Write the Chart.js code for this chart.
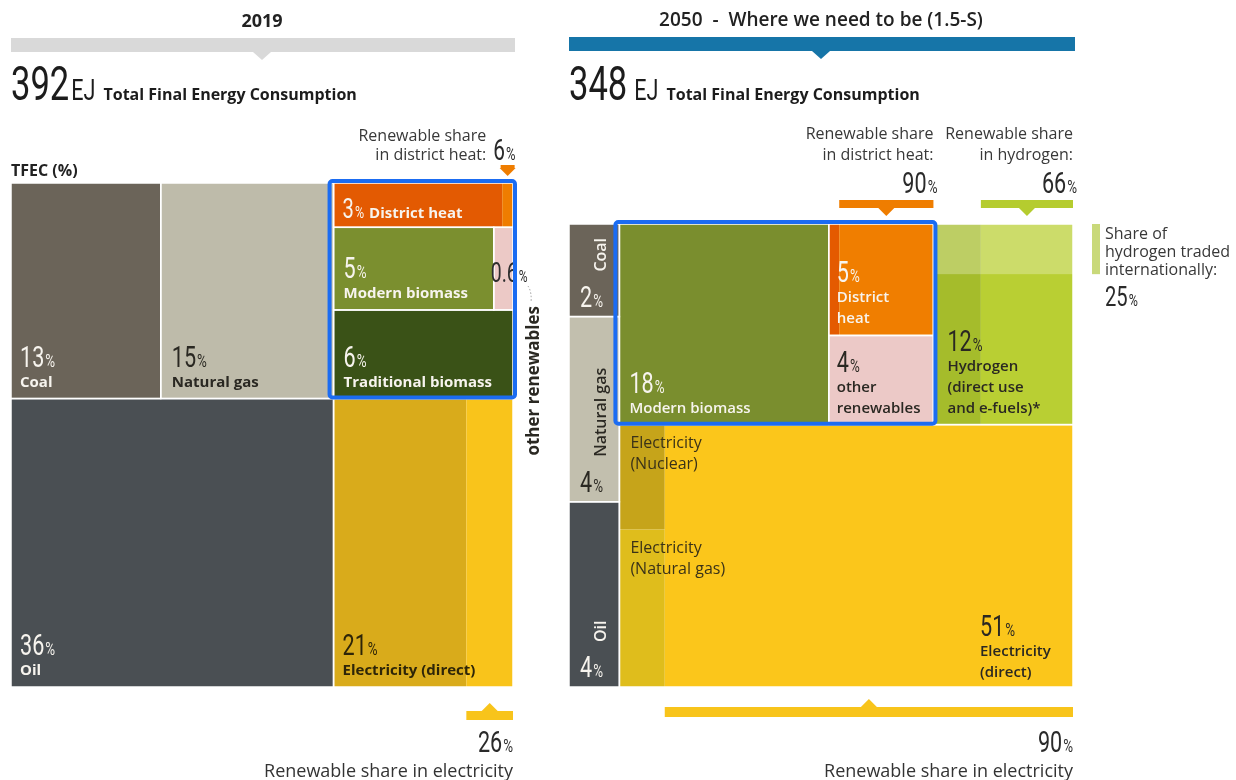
<!DOCTYPE html>
<html>
<head>
<meta charset="utf-8">
<title>Total Final Energy Consumption 2019 vs 2050</title>
<script src="https://cdn.jsdelivr.net/npm/chart.js@4.4.1/dist/chart.umd.min.js"></script>
<style>
  html, body { margin: 0; background: #fff; }
  #wrap { position: relative; width: 1236px; height: 780px; overflow: hidden; }
  canvas { position: absolute; top: 0; }
  #c2019 { left: 0; }
  #c2050 { left: 560px; }
</style>
</head>
<body>
<div id="wrap">
  <canvas id="c2019" width="560" height="780"></canvas>
  <canvas id="c2050" width="676" height="780"></canvas>
</div>
<script>
// shares of total final energy consumption, %
const carriers2019 = ['Coal', 'Natural gas', 'Oil', 'District heat', 'Modern biomass', 'other renewables', 'Traditional biomass', 'Electricity (direct)'];
const shares2019 = [13, 15, 36, 3, 5, 0.6, 6, 21];
const carriers2050 = ['Coal', 'Natural gas', 'Oil', 'Modern biomass', 'District heat', 'other renewables', 'Hydrogen', 'Electricity (direct)'];
const shares2050 = [2, 4, 4, 18, 5, 4, 12, 51];

const panelTitles = ['2019', '2050  -  Where we need to be (1.5-S)'];
const totalEJ = [392, 348];

// renewable shares inside a carrier, % (2019, 2050)
const renewDistrictHeat = [6, 90];
const renewElectricity = [26, 90];
const renewHydrogen2050 = 66;
const hydrogenTraded2050 = 25;
// nuclear vs gas inside the non-renewable power strip in 2050 (rough read)
const nonRenewPowerSplit2050 = [40, 60];

const SQ = 0.72; // horizontal squeeze for the condensed figures
const NUM_FONT = 'Roboto, "Liberation Sans", sans-serif';
const TXT_FONT = '"Open Sans", Lato, sans-serif';
const WHITE = '#f7f4ee';
const DARK = '#2a2822';

// ---------- layout helpers (data units, 0..100 on both axes) ----------
function sum(a) { return a.reduce((s, v) => s + v, 0); }

function slice(box, values, dir) {
  const total = sum(values);
  let pos = dir === 'h' ? box.x0 : box.y0;
  const span = dir === 'h' ? box.x1 - box.x0 : box.y1 - box.y0;
  return values.map(v => {
    const d = span * v / total;
    const r = dir === 'h'
      ? { x0: pos, x1: pos + d, y0: box.y0, y1: box.y1 }
      : { x0: box.x0, x1: box.x1, y0: pos, y1: pos + d };
    pos += d;
    return r;
  });
}

function byName(names, vals) {
  const o = {};
  names.forEach((n, i) => { o[n] = vals[i]; });
  return o;
}

function layout2019() {
  const s = byName(carriers2019, shares2019);
  const total = sum(shares2019);
  const leftCol = (s['Coal'] + s['Natural gas'] + s['Oil']) / total * 100;
  const topRow = (s['Coal'] + s['Natural gas'] + s['District heat'] + s['Modern biomass'] +
    s['other renewables'] + s['Traditional biomass']) / total * 100;

  const [coal, gas] = slice({ x0: 0, x1: leftCol, y0: 0, y1: topRow }, [s['Coal'], s['Natural gas']], 'h');
  const oil = { x0: 0, x1: leftCol, y0: topRow, y1: 100 };
  const [dh, mbRow, tb] = slice({ x0: leftCol, x1: 100, y0: 0, y1: topRow },
    [s['District heat'], s['Modern biomass'] + s['other renewables'], s['Traditional biomass']], 'v');
  const [mb, other] = slice(mbRow, [s['Modern biomass'], s['other renewables']], 'h');
  const elec = { x0: leftCol, x1: 100, y0: topRow, y1: 100 };
  const [dhFossil, dhRenew] = slice(dh, [100 - renewDistrictHeat[0], renewDistrictHeat[0]], 'h');
  const [elFossil, elRenew] = slice(elec, [100 - renewElectricity[0], renewElectricity[0]], 'h');
  return { coal, gas, oil, dh, mb, other, tb, elec, dhFossil, dhRenew, elFossil, elRenew };
}

function layout2050() {
  const s = byName(carriers2050, shares2050);
  const fossil = [s['Coal'], s['Natural gas'], s['Oil']];
  const fossilW = sum(fossil) / sum(shares2050) * 100;
  const [coal, gas, oil] = slice({ x0: 0, x1: fossilW, y0: 0, y1: 100 }, fossil, 'v');
  const topShare = s['Modern biomass'] + s['District heat'] + s['other renewables'] + s['Hydrogen'];
  const [band, elec] = slice({ x0: fossilW, x1: 100, y0: 0, y1: 100 }, [topShare, s['Electricity (direct)']], 'v');
  const [mb, mid, h2] = slice(band, [s['Modern biomass'], s['District heat'] + s['other renewables'], s['Hydrogen']], 'h');
  const [dh, other] = slice(mid, [s['District heat'], s['other renewables']], 'v');
  const [dhFossil, dhRenew] = slice(dh, [100 - renewDistrictHeat[1], renewDistrictHeat[1]], 'h');
  const [h2Fossil, h2Renew] = slice(h2, [100 - renewHydrogen2050, renewHydrogen2050], 'h');
  const [h2Traded] = slice(h2, [hydrogenTraded2050, 100 - hydrogenTraded2050], 'v');
  const [elFossil, elRenew] = slice(elec, [100 - renewElectricity[1], renewElectricity[1]], 'h');
  const [nuclear, gasPower] = slice(elFossil, nonRenewPowerSplit2050, 'v');
  return { coal, gas, oil, mb, dh, other, h2, elec, dhFossil, dhRenew, h2Fossil, h2Renew, h2Traded,
    elFossil, elRenew, nuclear, gasPower, cluster: { x0: mb.x0, x1: mid.x1, y0: band.y0, y1: band.y1 } };
}

function toPx(chart, r) {
  const x = chart.scales.x, y = chart.scales.y;
  const l = x.getPixelForValue(r.x0), rr = x.getPixelForValue(r.x1);
  const t = y.getPixelForValue(r.y0), b = y.getPixelForValue(r.y1);
  return { l, r: rr, t, b, w: rr - l, h: b - t, cx: (l + rr) / 2 };
}

// ---------- drawing helpers ----------
function fill(ctx, p, color) {
  ctx.fillStyle = color;
  ctx.fillRect(p.l, p.t, p.w, p.h);
}
function sep(ctx, p) {
  ctx.strokeStyle = '#ffffff';
  ctx.lineWidth = 1.5;
  ctx.strokeRect(p.l, p.t, p.w, p.h);
}
function txt(ctx, s, x, y, o = {}) {
  ctx.font = `${o.weight || 400} ${o.size || 15}px ${TXT_FONT}`;
  ctx.fillStyle = o.color || DARK;
  ctx.textAlign = o.align || 'left';
  ctx.textBaseline = 'alphabetic';
  ctx.fillText(s, x, y);
}
function vtxt(ctx, s, x, y, o) {
  ctx.save();
  ctx.translate(x, y);
  ctx.rotate(-Math.PI / 2);
  txt(ctx, s, 0, 0, o);
  ctx.restore();
}
function numWidth(ctx, s, size) {
  ctx.font = `400 ${size}px ${NUM_FONT}`;
  return ctx.measureText(s).width * SQ;
}
function num(ctx, s, x, y, size, color) {
  const w = numWidth(ctx, s, size);
  ctx.save();
  ctx.translate(x, y);
  ctx.scale(SQ, 1);
  ctx.fillStyle = color;
  ctx.textAlign = 'left';
  ctx.textBaseline = 'alphabetic';
  ctx.fillText(s, 0, 0);
  ctx.restore();
  return w;
}
function pct(ctx, v, x, y, size, color, align) {
  const s = String(v);
  const w1 = numWidth(ctx, s, size);
  const w2 = numWidth(ctx, '%', size * 0.62);
  const x0 = align === 'right' ? x - w1 - w2 - 1 : x;
  num(ctx, s, x0, y, size, color);
  num(ctx, '%', x0 + w1 + 1, y, size * 0.62, color);
  return w1 + w2 + 1;
}
// bar with a small triangle pointing at the block (dir 1 = down, -1 = up)
function marker(ctx, l, r, y, h, dir, color) {
  const cx = (l + r) / 2;
  ctx.fillStyle = color;
  ctx.fillRect(l, y, r - l, h);
  ctx.beginPath();
  if (dir > 0) {
    ctx.moveTo(cx - 8, y + h); ctx.lineTo(cx + 8, y + h); ctx.lineTo(cx, y + h + 8);
  } else {
    ctx.moveTo(cx - 8, y); ctx.lineTo(cx + 8, y); ctx.lineTo(cx, y - 8);
  }
  ctx.closePath();
  ctx.fill();
}
function header(ctx, ca, title, color, barY, titleWeight, titleSize) {
  ctx.fillStyle = color;
  ctx.fillRect(ca.left, barY, ca.right - ca.left + 2, 14);
  const cx = (ca.left + ca.right) / 2;
  ctx.beginPath();
  ctx.moveTo(cx - 9, barY + 14); ctx.lineTo(cx + 9, barY + 14); ctx.lineTo(cx, barY + 22);
  ctx.closePath();
  ctx.fill();
  txt(ctx, title, cx, barY - 11, { size: titleSize, weight: titleWeight, color: '#222', align: 'center' });
}
function totalLine(ctx, x, value, gap) {
  x += num(ctx, String(value), x, 100, 48, '#1c1c1c');
  x += gap;
  x += num(ctx, 'EJ', x, 100, 30, '#1c1c1c');
  txt(ctx, 'Total Final Energy Consumption', x + 8, 100, { size: 16, weight: 700, color: '#1c1c1c' });
}
function highlight(ctx, p) {
  ctx.strokeStyle = '#1b6cf2';
  ctx.lineWidth = 4;
  ctx.beginPath();
  ctx.roundRect(p.l - 4, p.t - 2, p.w + 6, p.h + 1, 3);
  ctx.stroke();
}

// ---------- 2019 panel ----------
function draw2019(chart) {
  const ctx = chart.ctx;
  const ca = chart.chartArea;
  const L = layout2019();
  const P = {};
  for (const k in L) P[k] = toPx(chart, L[k]);

  fill(ctx, P.coal, '#6b6459');
  fill(ctx, P.gas, '#bebbaa');
  fill(ctx, P.oil, '#4a4f53');
  fill(ctx, P.dhFossil, '#e35a02');
  fill(ctx, P.dhRenew, '#ef7d00');
  fill(ctx, P.mb, '#7b8f2f');
  fill(ctx, P.other, '#ecc9c6');
  fill(ctx, P.tb, '#3a5217');
  fill(ctx, P.elFossil, '#d9ab1b');
  fill(ctx, P.elRenew, '#f9c41b');
  ['coal', 'gas', 'oil', 'dh', 'mb', 'other', 'tb', 'elec'].forEach(k => sep(ctx, P[k]));

  const s = byName(carriers2019, shares2019);
  const label = (p, v, name, color, dx) => {
    pct(ctx, v, p.l + dx, p.b - 32, 30, color);
    txt(ctx, name, p.l + dx, p.b - 12, { weight: 700, color });
  };
  label(P.coal, s['Coal'], 'Coal', WHITE, 9);
  label(P.gas, s['Natural gas'], 'Natural gas', DARK, 11);
  label(P.mb, s['Modern biomass'], 'Modern biomass', WHITE, 10);
  label(P.tb, s['Traditional biomass'], 'Traditional biomass', WHITE, 10);
  label(P.oil, s['Oil'], 'Oil', WHITE, 9);
  label(P.elec, s['Electricity (direct)'], 'Electricity (direct)', '#2e2508', 9);

  const w = pct(ctx, s['District heat'], P.dh.l + 9, P.dh.b - 9, 28, WHITE);
  txt(ctx, 'District heat', P.dh.l + 9 + w + 5, P.dh.b - 9, { weight: 700, color: WHITE });

  // tiny "other renewables" slice, labelled outside
  pct(ctx, s['other renewables'], P.other.l - 3, P.mb.b - 28, 27, '#2e2e2e');
  vtxt(ctx, 'other renewables', P.other.r + 26, P.tb.b + 57, { size: 17, weight: 700, color: DARK });
  ctx.save();
  ctx.strokeStyle = '#9a9a9a';
  ctx.lineWidth = 1;
  ctx.setLineDash([1.5, 2]);
  ctx.beginPath();
  ctx.moveTo(P.other.r + 15, P.mb.b - 24);
  ctx.quadraticCurveTo(P.other.r + 19, P.mb.b - 18, P.other.r + 18, P.mb.b - 7);
  ctx.stroke();
  ctx.restore();

  highlight(ctx, { l: P.dh.l, t: P.dh.t, r: P.dh.r, b: P.tb.b, w: P.dh.w, h: P.tb.b - P.dh.t });

  // renewable share in district heat
  const dr = P.dhRenew;
  txt(ctx, 'Renewable share', dr.l - 16, dr.t - 42, { size: 16, color: '#383838', align: 'right' });
  txt(ctx, 'in district heat:', dr.l - 16, dr.t - 23, { size: 16, color: '#383838', align: 'right' });
  pct(ctx, renewDistrictHeat[0], dr.l - 9, dr.t - 23, 29, '#2a2a2a');
  marker(ctx, dr.cx - 7, dr.cx + 7, dr.t - 18, 3, 1, '#ef7d00');

  // renewable share in electricity
  const er = P.elRenew;
  marker(ctx, er.l, er.r, er.b + 24, 9, -1, '#f8c41b');
  pct(ctx, renewElectricity[0], er.r, er.b + 65, 30, '#2a2a2a', 'right');
  txt(ctx, 'Renewable share in electricity', er.r, er.b + 90, { size: 18, color: '#333', align: 'right' });

  header(ctx, ca, panelTitles[0], '#d9d9d9', 38, 700, 18);
  totalLine(ctx, ca.left, totalEJ[0], 2);
  txt(ctx, 'TFEC (%)', ca.left, ca.top - 7, { size: 16, weight: 700, color: '#222' });
}

// ---------- 2050 panel ----------
function draw2050(chart) {
  const ctx = chart.ctx;
  const ca = chart.chartArea;
  const L = layout2050();
  const P = {};
  for (const k in L) P[k] = toPx(chart, L[k]);

  fill(ctx, P.coal, '#6b6459');
  fill(ctx, P.gas, '#c2bfae');
  fill(ctx, P.oil, '#4a4f53');
  fill(ctx, P.mb, '#7a8e2e');
  fill(ctx, P.dhFossil, '#e45a00');
  fill(ctx, P.dhRenew, '#f07e00');
  fill(ctx, P.other, '#ecc9c7');
  fill(ctx, P.h2Fossil, '#a5bc2b');
  fill(ctx, P.h2Renew, '#b9cf33');
  fill(ctx, P.h2Traded, 'rgba(255,255,255,0.27)');
  fill(ctx, P.nuclear, '#c6a41a');
  fill(ctx, P.gasPower, '#dfbd1c');
  fill(ctx, P.elRenew, '#fbc61b');
  ['coal', 'gas', 'oil', 'mb', 'dh', 'other', 'h2', 'elec'].forEach(k => sep(ctx, P[k]));

  const s = byName(carriers2050, shares2050);

  // fossil column, names turned upright
  const fossilLabel = (p, v, name, color) => {
    vtxt(ctx, name, p.l + 37, p.b - 45, { size: 16, weight: 600, color });
    pct(ctx, v, p.l + 11, p.b - 10, 30, color);
  };
  fossilLabel(P.coal, s['Coal'], 'Coal', WHITE);
  fossilLabel(P.gas, s['Natural gas'], 'Natural gas', DARK);
  fossilLabel(P.oil, s['Oil'], 'Oil', WHITE);

  const stack = (x, bottom, v, lines, color) => {
    lines.slice().reverse().forEach((ln, i) => {
      txt(ctx, ln, x, bottom - 12 - i * 21, { weight: 600, color });
    });
    pct(ctx, v, x, bottom - 12 - lines.length * 21 + 1, 30, color);
  };
  stack(P.mb.l + 10, P.mb.b, s['Modern biomass'], ['Modern biomass'], WHITE);
  stack(P.dh.l + 8, P.dh.b, s['District heat'], ['District', 'heat'], WHITE);
  stack(P.other.l + 8, P.other.b, s['other renewables'], ['other', 'renewables'], DARK);
  stack(P.h2.l + 14, P.h2.b, s['Hydrogen'], ['Hydrogen', '(direct use', 'and e-fuels)*'], DARK);
  stack(P.elec.r - 93, P.elec.b + 2, s['Electricity (direct)'], ['Electricity', '(direct)'], DARK);

  txt(ctx, 'Electricity', P.nuclear.l + 11, P.nuclear.t + 23, { size: 16, color: '#3a3218' });
  txt(ctx, '(Nuclear)', P.nuclear.l + 11, P.nuclear.t + 44, { size: 16, color: '#3a3218' });
  txt(ctx, 'Electricity', P.gasPower.l + 11, P.gasPower.t + 23, { size: 16, color: '#3a3218' });
  txt(ctx, '(Natural gas)', P.gasPower.l + 11, P.gasPower.t + 44, { size: 16, color: '#3a3218' });

  highlight(ctx, P.cluster);

  // renewable share in district heat
  const dr = P.dhRenew;
  txt(ctx, 'Renewable share', P.dh.r, dr.t - 85, { size: 16, color: '#383838', align: 'right' });
  txt(ctx, 'in district heat:', P.dh.r, dr.t - 64, { size: 16, color: '#383838', align: 'right' });
  pct(ctx, renewDistrictHeat[1], P.dh.r + 4, dr.t - 31, 30, '#2a2a2a', 'right');
  marker(ctx, dr.l, dr.r, dr.t - 24, 8, 1, '#ef7d00');

  // renewable share in hydrogen
  const hr = P.h2Renew;
  txt(ctx, 'Renewable share', hr.r, hr.t - 85, { size: 16, color: '#383838', align: 'right' });
  txt(ctx, 'in hydrogen:', hr.r, hr.t - 64, { size: 16, color: '#383838', align: 'right' });
  pct(ctx, renewHydrogen2050, hr.r + 4, hr.t - 31, 30, '#2a2a2a', 'right');
  marker(ctx, hr.l, hr.r, hr.t - 24, 8, 1, '#b5cc2f');

  // share traded internationally, keyed by a swatch as tall as the strip
  const tr = P.h2Traded;
  ctx.fillStyle = '#c9d97a';
  ctx.fillRect(tr.r + 19, tr.t, 8, tr.h);
  ['Share of', 'hydrogen traded', 'internationally:'].forEach((ln, i) => {
    txt(ctx, ln, tr.r + 32, tr.t + 15 + i * 18, { size: 16, color: '#383838' });
  });
  pct(ctx, hydrogenTraded2050, tr.r + 32, tr.t + 82, 28, '#2a2a2a');

  // renewable share in electricity
  const er = P.elRenew;
  marker(ctx, er.l, er.r, er.b + 20, 10, -1, '#f8c41b');
  pct(ctx, renewElectricity[1], er.r, er.b + 65, 30, '#2a2a2a', 'right');
  txt(ctx, 'Renewable share in electricity', er.r, er.b + 90, { size: 18, color: '#333', align: 'right' });

  header(ctx, ca, panelTitles[1], '#1675a8', 37, 600, 19);
  totalLine(ctx, ca.left, totalEJ[1], 7);
}

function makeChart(id, padding, drawFn) {
  return new Chart(document.getElementById(id), {
    type: 'scatter',
    data: { datasets: [] },
    options: {
      responsive: false,
      animation: false,
      layout: { padding },
      scales: {
        x: { type: 'linear', min: 0, max: 100, display: false },
        y: { type: 'linear', min: 0, max: 100, reverse: true, display: false }
      },
      plugins: { legend: { display: false }, tooltip: { enabled: false } }
    },
    plugins: [{ id: 'energyBlocks', afterDraw: drawFn }]
  });
}

makeChart('c2019', { left: 11, right: 47, top: 183, bottom: 93 }, draw2019);
makeChart('c2050', { left: 9, right: 163, top: 224, bottom: 93 }, draw2050);
</script>
</body>
</html>
